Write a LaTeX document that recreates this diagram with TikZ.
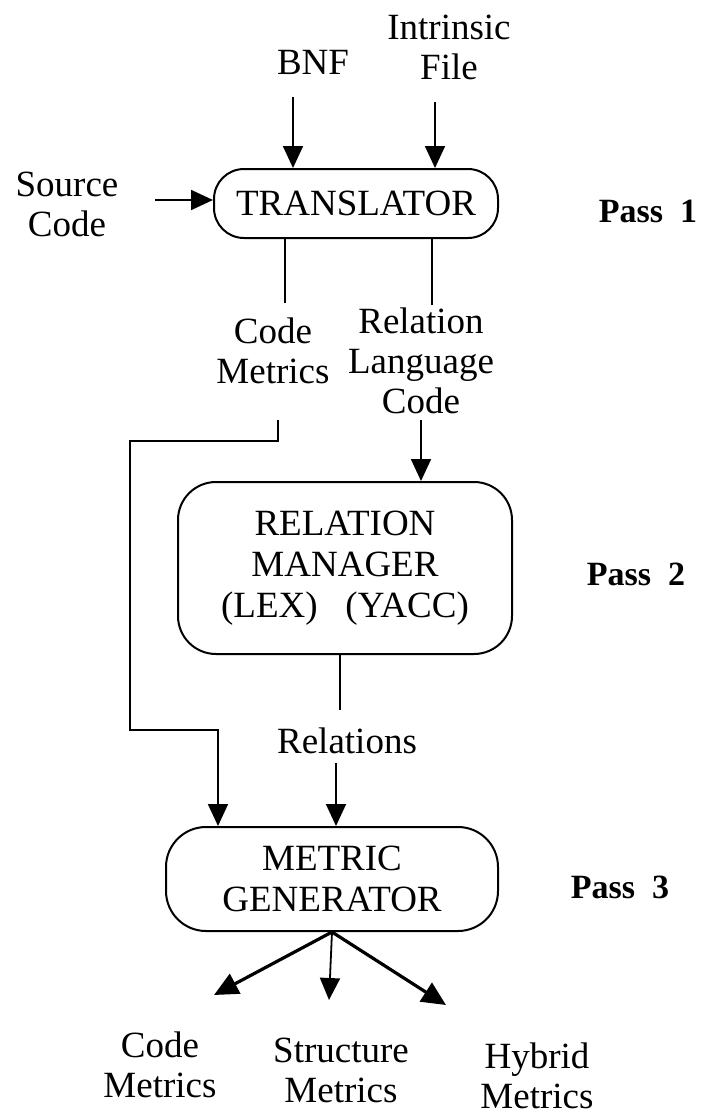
\documentclass[tikz,border=0pt]{standalone}
\usepackage{fontspec}
\setmainfont{Liberation Serif}
\usetikzlibrary{arrows.meta}
\begin{document}
\begin{tikzpicture}[x=1pt,y=-1pt,
  lbl/.style={font=\fontsize{37}{40}\selectfont, inner sep=0pt, align=center, anchor=north},
  pass/.style={font=\fontsize{34}{40}\selectfont\bfseries, inner sep=0pt, anchor=base},
  proc/.style={draw, line width=2pt, inner sep=0pt, align=center, font=\fontsize{37}{41}\selectfont},
  wire/.style={line width=1.8pt},
  arr/.style={wire, -{Triangle[length=22pt,width=20pt]}},
  fat/.style={line width=3.2pt, -{Triangle[length=24pt,width=22pt]}}]
\useasboundingbox (0,0) rectangle (703,1119);

% processing stages
\node[proc, rounded corners=30pt, minimum width=284pt, minimum height=69pt] (trans) at (356,203.5) {TRANSLATOR};
\node[proc, rounded corners=38pt, minimum width=334pt, minimum height=172pt] (relman) at (345,568) {RELATION\\MANAGER\\(LEX)\hspace{0.75em}(YACC)};
\node[proc, rounded corners=40pt, minimum width=332pt, minimum height=104pt] (metgen) at (332,879) {METRIC\\GENERATOR};

% inputs and intermediate products
\node[lbl] (intr) at (449,15) {Intrinsic\\File};
\node[lbl] (bnf) at (313,50) {BNF};
\node[lbl] (src) at (67,172) {Source\\Code};
\node[lbl] (cm) at (273,318) {Code\\Metrics};
\node[lbl] (rlc) at (421,308) {Relation\\Language\\Code};
\node[lbl] (rels) at (347,728) {Relations};

% outputs
\node[lbl] (ocm) at (160,1032) {Code\\Metrics};
\node[lbl] (osm) at (341,1038) {Structure\\Metrics};
\node[lbl] (ohm) at (537,1043) {Hybrid\\Metrics};

% pass labels
\node[pass] (p1) at (648,222) {Pass\hspace{0.5em}1};
\node[pass] (p2) at (636,585) {Pass\hspace{0.5em}2};
\node[pass] (p3) at (620,898) {Pass\hspace{0.5em}3};

% pass 1 inputs
\coordinate (bnfS) at (293,97);
\draw[arr] (bnfS) -- (bnfS |- trans.north);
\coordinate (intS) at (435,102);
\draw[arr] (intS) -- (intS |- trans.north);
\coordinate (srcS) at (155,200);
\draw[arr] (srcS) -- (srcS -| trans.west);

% pass 1 outputs
\coordinate (cmE) at (285,303);
\draw[wire] (cmE |- trans.south) -- (cmE);
\coordinate (rlE) at (432,305);
\draw[wire] (rlE |- trans.south) -- (rlE);

% code metrics routed around to the generator
\coordinate (cmS) at (278,420);
\coordinate (k1) at (130,441);
\coordinate (k2) at (218,730);
\draw[arr] (cmS) |- (k1) |- (k2) -- (k2 |- metgen.north);

% relation language code into pass 2
\coordinate (rlS) at (421,420);
\draw[arr] (rlS) -- (rlS |- relman.north);

% pass 2 output
\coordinate (rmE) at (340,710);
\draw[wire] (rmE |- relman.south) -- (rmE);
\coordinate (relS) at (336,763);
\draw[arr] (relS) -- (relS |- metgen.north);

% pass 3 outputs
\coordinate (t1) at (214,995);
\coordinate (t2) at (329,1000);
\coordinate (t3) at (446,1005);
\draw[fat] (metgen.south) -- (t1);
\draw[arr] (metgen.south) -- (t2);
\draw[fat] (metgen.south) -- (t3);
\end{tikzpicture}
\end{document}
